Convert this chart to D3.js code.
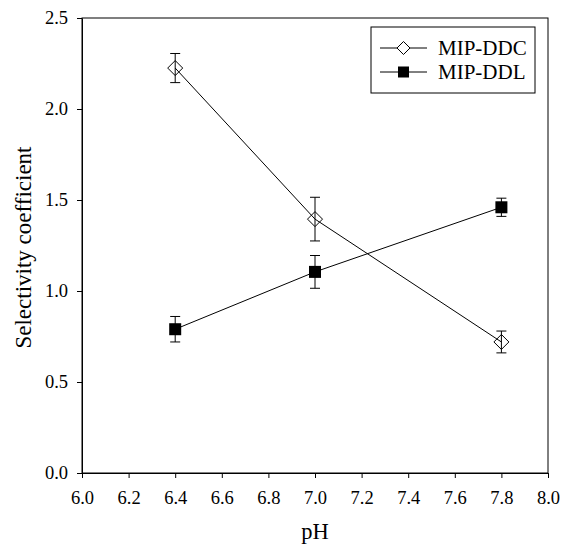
<!DOCTYPE html>
<html>
<head>
<meta charset="utf-8">
<script src="https://cdn.jsdelivr.net/npm/d3@7"></script>
<style>
  body { margin: 0; background: #fff; }
  svg text { font-family: "Liberation Serif", "Times New Roman", serif; fill: #000; }
</style>
</head>
<body>
<div id="chart"></div>
<script>
'use strict';
// pH values and selectivity coefficients
var phValues = [6.4, 7.0, 7.8];
var ddcValues = [2.225, 1.395, 0.72];
var ddcErrors = [0.08, 0.12, 0.06];
var ddlValues = [0.79, 1.105, 1.46];
var ddlErrors = [0.07, 0.09, 0.05];
var xTicks = [6.0, 6.2, 6.4, 6.6, 6.8, 7.0, 7.2, 7.4, 7.6, 7.8, 8.0];
var yTicks = [0.0, 0.5, 1.0, 1.5, 2.0, 2.5];
var seriesNames = ['MIP-DDC', 'MIP-DDL'];

var width = 561, height = 544;
var margin = {top: 18, right: 13, bottom: 71, left: 82};

var svg = d3.select('#chart').append('svg')
  .attr('width', width)
  .attr('height', height);

var x = d3.scaleLinear().domain([6.0, 8.0]).range([margin.left, width - margin.right]);
var y = d3.scaleLinear().domain([0, 2.5]).range([height - margin.bottom, margin.top]);

// frame
svg.append('rect')
  .attr('x', x(6.0))
  .attr('y', y(2.5))
  .attr('width', x(8.0) - x(6.0))
  .attr('height', y(0) - y(2.5))
  .attr('fill', 'none')
  .attr('stroke', '#000')
  .attr('stroke-width', 1);

var xAxis = svg.append('g')
  .attr('transform', 'translate(0,' + y(0) + ')')
  .call(d3.axisBottom(x).tickValues(xTicks).tickSize(5).tickSizeOuter(0).tickFormat(d3.format('.1f')));
var yAxis = svg.append('g')
  .attr('transform', 'translate(' + x(6.0) + ',0)')
  .call(d3.axisLeft(y).tickValues(yTicks).tickSize(5).tickSizeOuter(0).tickFormat(d3.format('.1f')));

[xAxis, yAxis].forEach(function(a) {
  a.select('.domain').attr('stroke', '#000');
  a.selectAll('.tick line').attr('stroke', '#000');
  a.selectAll('.tick text')
    .attr('font-size', '18.5px')
    .attr('font-family', '"Liberation Serif", serif');
});
xAxis.selectAll('.tick text').attr('y', 18).attr('dy', '0.71em');
yAxis.selectAll('.tick text').attr('x', -14).attr('dy', '0.32em');

// axis titles
svg.append('text')
  .attr('x', (x(6.0) + x(8.0)) / 2)
  .attr('y', 539)
  .attr('text-anchor', 'middle')
  .attr('font-size', '22.5px')
  .text('pH');
svg.append('text')
  .attr('transform', 'translate(31,' + ((y(0) + y(2.5)) / 2 + 2) + ') rotate(-90)')
  .attr('text-anchor', 'middle')
  .attr('font-size', '23px')
  .text('Selectivity coefficient');

function makeSeries(vals, errs) {
  return phValues.map(function(p, i) { return {x: p, y: vals[i], e: errs[i]}; });
}
var ddc = makeSeries(ddcValues, ddcErrors);
var ddl = makeSeries(ddlValues, ddlErrors);

var line = d3.line().x(function(d) { return x(d.x); }).y(function(d) { return y(d.y); });
var diamond = 'M0,-7.5L7.5,0L0,7.5L-7.5,0Z';

function drawSeries(data, isDiamond) {
  var g = svg.append('g');
  g.append('path')
    .datum(data)
    .attr('d', line)
    .attr('fill', 'none')
    .attr('stroke', '#000')
    .attr('stroke-width', 1);
  var eb = g.selectAll('.eb').data(data).enter().append('g');
  eb.append('line')
    .attr('x1', function(d) { return x(d.x); })
    .attr('x2', function(d) { return x(d.x); })
    .attr('y1', function(d) { return y(d.y - d.e); })
    .attr('y2', function(d) { return y(d.y + d.e); })
    .attr('stroke', '#000');
  [-1, 1].forEach(function(s) {
    eb.append('line')
      .attr('x1', function(d) { return x(d.x) - 5; })
      .attr('x2', function(d) { return x(d.x) + 5; })
      .attr('y1', function(d) { return y(d.y + s * d.e); })
      .attr('y2', function(d) { return y(d.y + s * d.e); })
      .attr('stroke', '#000');
  });
  if (isDiamond) {
    g.selectAll('.m').data(data).enter().append('path')
      .attr('d', diamond)
      .attr('transform', function(d) { return 'translate(' + x(d.x) + ',' + y(d.y) + ')'; })
      .attr('fill', 'none')
      .attr('stroke', '#000');
  } else {
    g.selectAll('.m').data(data).enter().append('rect')
      .attr('x', function(d) { return x(d.x) - 6; })
      .attr('y', function(d) { return y(d.y) - 6; })
      .attr('width', 12)
      .attr('height', 12)
      .attr('fill', '#000');
  }
}
drawSeries(ddc, true);
drawSeries(ddl, false);

// legend
var legend = svg.append('g').attr('transform', 'translate(371,27)');
legend.append('rect')
  .attr('width', 164)
  .attr('height', 66)
  .attr('fill', '#fff')
  .attr('stroke', '#000');
seriesNames.forEach(function(name, i) {
  var row = legend.append('g').attr('transform', 'translate(0,' + (21 + i * 24) + ')');
  row.append('line').attr('x1', 9).attr('x2', 56).attr('stroke', '#000');
  if (i === 0) {
    row.append('path').attr('d', 'M0,-6.5L6.5,0L0,6.5L-6.5,0Z')
      .attr('transform', 'translate(32.5,0)')
      .attr('fill', '#fff').attr('stroke', '#000');
  } else {
    row.append('rect').attr('x', 27).attr('y', -5.5).attr('width', 11).attr('height', 11).attr('fill', '#000');
  }
  row.append('text')
    .attr('x', 67)
    .attr('dy', '0.33em')
    .attr('font-size', '21px')
    .text(name);
});
</script>
</body>
</html>
